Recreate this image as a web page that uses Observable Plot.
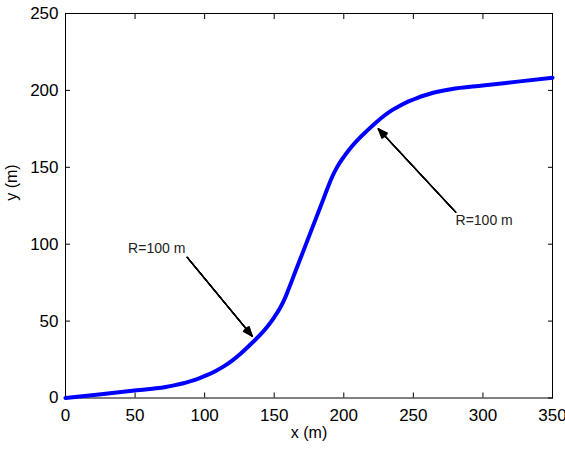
<!DOCTYPE html>
<html>
<head>
<meta charset="utf-8">
<script src="https://cdn.jsdelivr.net/npm/d3@7"></script>
<script src="https://cdn.jsdelivr.net/npm/@observablehq/plot@0.6"></script>
<style>
  html, body { margin: 0; padding: 0; background: #fff; }
  svg { display: block; }
</style>
</head>
<body>
<div id="chart"></div>
<script>
// Road centerline (m)
const pathX = [0, 24, 48, 72, 78, 84, 90, 96, 102, 108, 114, 120, 126, 132, 139, 145, 150, 154, 157, 160,
               165, 170, 175, 180, 185, 189, 192, 195, 199, 204, 210, 217, 223, 229, 235, 241, 247, 253, 259, 265, 271, 277,
               300, 325, 350];
const pathY = [0, 2.3, 4.7, 7.2, 8.2, 9.4, 11.0, 12.8, 15.0, 17.6, 20.7, 24.5, 29.0, 34.0, 40.2, 46.4, 52.5, 58.2, 63.5, 70.0,
               81.7, 93.4, 105.1, 116.8, 128.5, 138, 144.5, 149.8, 155.5, 161.6, 167.8, 174, 179, 183.5, 187.3, 190.4, 193, 195.2, 197, 198.6, 199.8, 200.8,
               203.2, 205.7, 208.2];

// Annotations: label anchor and arrow from/to (data units)
const noteText = ["R=100 m", "R=100 m"];
const noteX = [45, 280.3];
const noteY = [97.5, 115.4];
const arrowX1 = [87.5, 280.4];
const arrowY1 = [91.5, 120.8];
const arrowX2 = [134.2, 224.8];
const arrowY2 = [40.2, 175];

const xTicks = [0, 50, 100, 150, 200, 250, 300, 350];
const yTicks = [0, 50, 100, 150, 200, 250];

const path = pathX.map((x, i) => ({x, y: pathY[i]}));
const notes = noteText.map((t, i) => ({t, x: noteX[i], y: noteY[i]}));
const arrows = arrowX1.map((x1, i) => ({x1, y1: arrowY1[i], x2: arrowX2[i], y2: arrowY2[i]}));

const font = "'Liberation Sans', Arial, Helvetica, sans-serif";
const blank = () => "";

const headMarks = [44, 36, 28, 20, 12, 4].map(a =>
  Plot.arrow(arrows, {x1: "x1", y1: "y1", x2: "x2", y2: "y2", stroke: "black", strokeWidth: 1.2, headLength: 12.5, headAngle: a})
);

const chart = Plot.plot({
  width: 565,
  height: 455,
  marginLeft: 65,
  marginRight: 13,
  marginTop: 13,
  marginBottom: 57.5,
  style: {fontFamily: font, color: "black", background: "white"},
  x: {domain: [0, 350]},
  y: {domain: [0, 250]},
  marks: [
    Plot.frame({stroke: "black", strokeWidth: 1}),
    // inward ticks on all sides
    Plot.axisX({anchor: "bottom", ticks: xTicks, tickSize: -5, tickFormat: blank, label: null}),
    Plot.axisX({anchor: "top", ticks: xTicks, tickSize: -5, tickFormat: blank, label: null}),
    Plot.axisY({anchor: "left", ticks: yTicks, tickSize: -5, tickFormat: blank, label: null}),
    Plot.axisY({anchor: "right", ticks: yTicks, tickSize: -5, tickFormat: blank, label: null}),
    // tick labels
    Plot.axisX({anchor: "bottom", ticks: xTicks, tickSize: 0, tickPadding: 11, fontSize: 17, label: null}),
    Plot.axisY({anchor: "left", ticks: yTicks, tickSize: 0, tickPadding: 7, fontSize: 17, label: null}),
    // axis titles
    Plot.text(["x (m)"], {frameAnchor: "bottom", dy: 39.5, text: d => d, fontSize: 16}),
    Plot.text(["y (m)"], {frameAnchor: "left", dx: -54, dy: -5, rotate: -90, text: d => d, fontSize: 16}),
    // curve
    Plot.line(path, {x: "x", y: "y", stroke: "#0000ff", strokeWidth: 4, curve: "monotone-x"}),
    // annotations
    ...headMarks,
    Plot.text(notes, {x: "x", y: "y", text: "t", textAnchor: "start", fontSize: 14, fill: "#222"})
  ]
});

document.getElementById("chart").appendChild(chart);
</script>
</body>
</html>
